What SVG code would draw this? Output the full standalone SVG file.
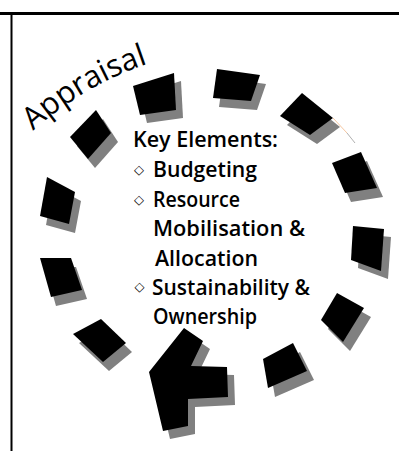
<svg xmlns="http://www.w3.org/2000/svg" xmlns:xlink="http://www.w3.org/1999/xlink" width="399" height="451" viewBox="0 0 399 451">
<style>
.blk{fill:#000}
.shd{fill:#808080}
.lbl{font-family:"Open Sans","Liberation Sans",sans-serif;font-size:21.5px;font-weight:600;fill:#000}
.bul{font-family:"DejaVu Sans",sans-serif;font-size:13px;font-weight:bold;fill:#000;text-anchor:middle}
.frame{fill:#000}
</style>
<defs>
<polygon id="pL0" points="70,137 96,110 111,133 88,159"/>
<polygon id="pT1" points="133,86 174,73 176,110 140,115"/>
<polygon id="pT2" points="217,69 260,75 251,101 213,98"/>
<polygon id="pT3" points="302,93 333,118 310,135 280,116"/>
<polygon id="pR1" points="332,163 361,152 377,188 345,193"/>
<polygon id="pR2" points="353,226 384,229 381,271 351,260"/>
<polygon id="pR3" points="337,293 364,308 343,342 321,320"/>
<polygon id="pBR" points="263,359 293,343 307,371 268,388"/>
<polygon id="pBL" points="73,334 101,319 126,343 103,362"/>
<polygon id="pL2" points="40,258 71,258 82,290 51,297"/>
<polygon id="pL1" points="47,177 75,192 69,224 40,216"/>
<polygon id="pAR" points="184,328 203,341 191,366 227,367 228,397 188,399 188,426 163,431 149,372"/>
<path id="arcApp" d="M33,131 Q86,84 150,63"/>
</defs>
<g id="frame">
<rect class="frame" x="0" y="12" width="399" height="3"/>
<rect class="frame" x="10.5" y="12" width="2" height="439"/>
</g>
<g id="blocks">
<g id="block-L0"><use xlink:href="#pL0" class="shd" transform="translate(7,9)"/><use xlink:href="#pL0" class="blk"/></g>
<g id="block-T1"><use xlink:href="#pT1" class="shd" transform="translate(7,8)"/><use xlink:href="#pT1" class="blk"/></g>
<g id="block-T2"><use xlink:href="#pT2" class="shd" transform="translate(6,9)"/><use xlink:href="#pT2" class="blk"/></g>
<g id="block-T3"><use xlink:href="#pT3" class="shd" transform="translate(7,9)"/><use xlink:href="#pT3" class="blk"/>
<line x1="333" y1="118" x2="347" y2="133" stroke="#f5c6a0" stroke-width="1"/>
<line x1="347" y1="133" x2="355" y2="143" stroke="#b0b0b0" stroke-width="1"/></g>
<g id="block-R1"><use xlink:href="#pR1" class="shd" transform="translate(6,9)"/><use xlink:href="#pR1" class="blk"/></g>
<g id="block-R2"><use xlink:href="#pR2" class="shd" transform="translate(7,8)"/><use xlink:href="#pR2" class="blk"/></g>
<g id="block-R3"><use xlink:href="#pR3" class="shd" transform="translate(7,9)"/><use xlink:href="#pR3" class="blk"/></g>
<g id="block-BR"><use xlink:href="#pBR" class="shd" transform="translate(7,9)"/><use xlink:href="#pBR" class="blk"/></g>
<g id="arrowhead"><use xlink:href="#pAR" class="shd" transform="translate(7,8)"/><use xlink:href="#pAR" class="blk"/></g>
<g id="block-BL"><use xlink:href="#pBL" class="shd" transform="translate(6,9)"/><use xlink:href="#pBL" class="blk"/></g>
<g id="block-L2"><use xlink:href="#pL2" class="shd" transform="translate(5,9)"/><use xlink:href="#pL2" class="blk"/></g>
<g id="block-L1"><use xlink:href="#pL1" class="shd" transform="translate(6,9)"/><use xlink:href="#pL1" class="blk"/></g>
</g>
<g id="title">
<text class="lbl" style="font-size:31px;font-weight:normal"><textPath xlink:href="#arcApp" textLength="134" lengthAdjust="spacingAndGlyphs">Appraisal</textPath></text>
</g>
<g id="key-elements">
<text class="lbl" x="133" y="147" textLength="145" lengthAdjust="spacingAndGlyphs">Key Elements:</text>
<text class="bul" x="139" y="174">◇</text>
<text class="lbl" x="153" y="177" textLength="104" lengthAdjust="spacingAndGlyphs">Budgeting</text>
<text class="bul" x="139" y="204">◇</text>
<text class="lbl" x="153" y="207" textLength="87" lengthAdjust="spacingAndGlyphs">Resource</text>
<text class="lbl" x="153" y="236" textLength="152" lengthAdjust="spacingAndGlyphs">Mobilisation &amp;</text>
<text class="lbl" x="155" y="266" textLength="103" lengthAdjust="spacingAndGlyphs">Allocation</text>
<text class="bul" x="139.5" y="291">◇</text>
<text class="lbl" x="152" y="295" textLength="158" lengthAdjust="spacingAndGlyphs">Sustainability &amp;</text>
<text class="lbl" x="153" y="324" textLength="104" lengthAdjust="spacingAndGlyphs">Ownership</text>
</g>
</svg>
